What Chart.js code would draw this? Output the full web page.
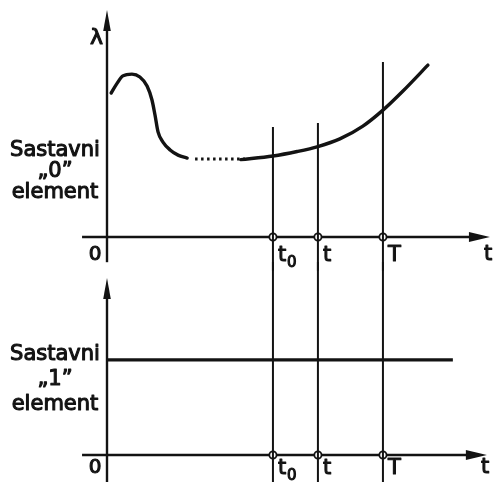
<!DOCTYPE html>
<html>
<head>
<meta charset="utf-8">
<script src="https://cdn.jsdelivr.net/npm/chart.js@4.4.1/dist/chart.umd.min.js"></script>
<style>
  html, body { margin: 0; padding: 0; background: #fff; }
  #wrap { position: relative; width: 497px; height: 482px; overflow: hidden; }
  canvas { position: absolute; left: 0; }
  #top { top: 0; z-index: 2; }
  #bottom { top: 262px; z-index: 1; }
</style>
</head>
<body>
<div id="wrap">
  <canvas id="top" width="497" height="272"></canvas>
  <canvas id="bottom" width="497" height="220"></canvas>
</div>
<script>
// Element "0": failure rate λ(t) – early failures, useful life (dotted), wear-out
const earlyT = [0.11, 0.27, 0.42, 0.66, 0.87, 1.06, 1.19, 1.27, 1.35, 1.48, 1.67, 1.88, 2.12];
const earlyL = [6.40, 6.84, 7.16, 7.24, 7.11, 6.71, 6.09, 5.42, 4.67, 4.22, 3.87, 3.64, 3.51];
const usefulT = [2.33, 3.00, 3.65];
const usefulL = [3.47, 3.47, 3.47];
const wearT = [3.54, 4.39, 5.03, 5.58, 6.16, 6.77, 7.30, 7.83, 8.49];
const wearL = [3.44, 3.60, 3.80, 4.02, 4.36, 4.93, 5.64, 6.49, 7.64];

// Element "1": constant failure rate
const level1 = 5.37;
const level1End = 9.15;

// Marked instants on the time axis
const markT = [4.39, 5.58, 7.30];
const markNames = ['t', 't', 'T'];
const markSubs = ['0', '', ''];
const markTopUpper = [4.89, 5.07, 7.78];   // where each line starts in the upper panel

const INK = '#131313';
const FONT = '"DejaVu Sans", "Liberation Sans", sans-serif';

function pts(xs, ys) { return xs.map((x, i) => ({ x: x, y: ys[i] })); }

function verticals(tops, bottom) {
  return markT.map((t, i) => ({
    data: [{ x: t, y: tops[i] }, { x: t, y: bottom }],
    borderColor: INK, borderWidth: 2, pointRadius: 0, clip: false, tension: 0
  }));
}

function circles() {
  return {
    data: markT.map(t => ({ x: t, y: 0 })),
    showLine: false, pointRadius: 3.6, pointBorderWidth: 1.8,
    pointBackgroundColor: '#fff', pointBorderColor: INK, clip: false
  };
}

function text(ctx, s, x, y, size, align) {
  ctx.font = size + 'px ' + FONT;
  ctx.textAlign = align || 'left';
  ctx.textBaseline = 'alphabetic';
  ctx.fillStyle = INK;
  ctx.strokeStyle = INK;
  ctx.lineWidth = 1.1;
  ctx.lineJoin = 'round';
  ctx.fillText(s, x, y);
  ctx.strokeText(s, x, y);
}

// Axes with arrowheads and the panel captions
function panelPlugin(spec) {
  return {
    id: 'panel',
    beforeDatasetsDraw(chart) {
      const ctx = chart.ctx, xs = chart.scales.x, ys = chart.scales.y;
      const x0 = xs.getPixelForValue(0), y0 = ys.getPixelForValue(0);
      const xTip = xs.getPixelForValue(spec.xTip), yTip = ys.getPixelForValue(spec.yTip);
      ctx.save();
      ctx.strokeStyle = INK; ctx.fillStyle = INK; ctx.lineWidth = 2.4;
      // time axis
      ctx.beginPath();
      ctx.moveTo(xs.getPixelForValue(spec.xStart), y0);
      ctx.lineTo(xTip - 10, y0);
      ctx.stroke();
      ctx.beginPath();
      ctx.moveTo(xTip, y0);
      ctx.lineTo(xTip - 21, y0 - 5);
      ctx.lineTo(xTip - 21, y0 + 5);
      ctx.closePath(); ctx.fill();
      // rate axis
      ctx.beginPath();
      ctx.moveTo(x0, ys.getPixelForValue(spec.yStart));
      ctx.lineTo(x0, yTip + 10);
      ctx.stroke();
      ctx.beginPath();
      ctx.moveTo(x0, yTip);
      ctx.lineTo(x0 - 3.8, yTip + 21);
      ctx.lineTo(x0 + 3.8, yTip + 21);
      ctx.closePath(); ctx.fill();
      ctx.restore();
    },
    afterDraw(chart) {
      const ctx = chart.ctx, xs = chart.scales.x, ys = chart.scales.y;
      const x0 = xs.getPixelForValue(0), y0 = ys.getPixelForValue(0);
      ctx.save();
      if (spec.yName) text(ctx, spec.yName, x0 - 4, spec.yNameY, 22, 'right');
      text(ctx, '0', x0 - 12, y0 + spec.labelDy - 1, 20, 'center');
      markT.forEach((t, i) => {
        const px = xs.getPixelForValue(t) + 5;
        text(ctx, markNames[i], px, y0 + spec.labelDy, 21, 'left');
        if (markSubs[i]) text(ctx, markSubs[i], px + 9, y0 + spec.labelDy + 6, 15, 'left');
      });
      text(ctx, 't', xs.getPixelForValue(spec.xTip) - 6, y0 + spec.labelDy - 1, 21, 'left');
      spec.caption.forEach((line, i) => text(ctx, line, 55, spec.captionY[i], 21, 'center'));
      ctx.restore();
    }
  };
}

function makeChart(id, datasets, padding, spec) {
  return new Chart(document.getElementById(id), {
    type: 'line',
    data: { datasets: datasets },
    options: {
      responsive: false, animation: false, devicePixelRatio: 1,
      layout: { padding: padding },
      scales: {
        x: { type: 'linear', min: 0, max: 10, display: false },
        y: { type: 'linear', min: 0, max: 10, display: false }
      },
      elements: { line: { borderColor: INK, fill: false }, point: { radius: 0 } },
      plugins: { legend: { display: false }, tooltip: { enabled: false } }
    },
    plugins: [panelPlugin(spec)]
  });
}

// Upper panel
makeChart('top', [
  ...verticals(markTopUpper, -1.5),
  { data: pts(earlyT, earlyL), borderColor: INK, borderWidth: 3.4, cubicInterpolationMode: 'monotone', pointRadius: 0, borderCapStyle: 'round' },
  { data: pts(usefulT, usefulL), borderColor: INK, borderWidth: 3, borderDash: [2.5, 3.5], pointRadius: 0 },
  { data: pts(wearT, wearL), borderColor: INK, borderWidth: 3.4, cubicInterpolationMode: 'monotone', pointRadius: 0, borderCapStyle: 'round' },
  circles()
], { left: 107, right: 12, top: 12, bottom: 35 }, {
  xStart: -0.66, xTip: 10.13, yStart: -1.12, yTip: 10.09,
  yName: 'λ', yNameY: 44, labelDy: 24,
  caption: ['Sastavni', '„0”', 'element'], captionY: [156, 177, 198]
});

// Lower panel
makeChart('bottom', [
  ...verticals([11.5, 11.5, 11.5], -1.7),
  { data: [{ x: 0, y: level1 }, { x: level1End, y: level1 }], borderColor: INK, borderWidth: 3.2, pointRadius: 0 },
  circles()
], { left: 107, right: 12, top: 16, bottom: 27 }, {
  xStart: -0.66, xTip: 10.05, yStart: -1.7, yTip: 10,
  yName: '', yNameY: 0, labelDy: 19,
  caption: ['Sastavni', '„1”', 'element'], captionY: [98, 123, 148]
});
</script>
</body>
</html>
